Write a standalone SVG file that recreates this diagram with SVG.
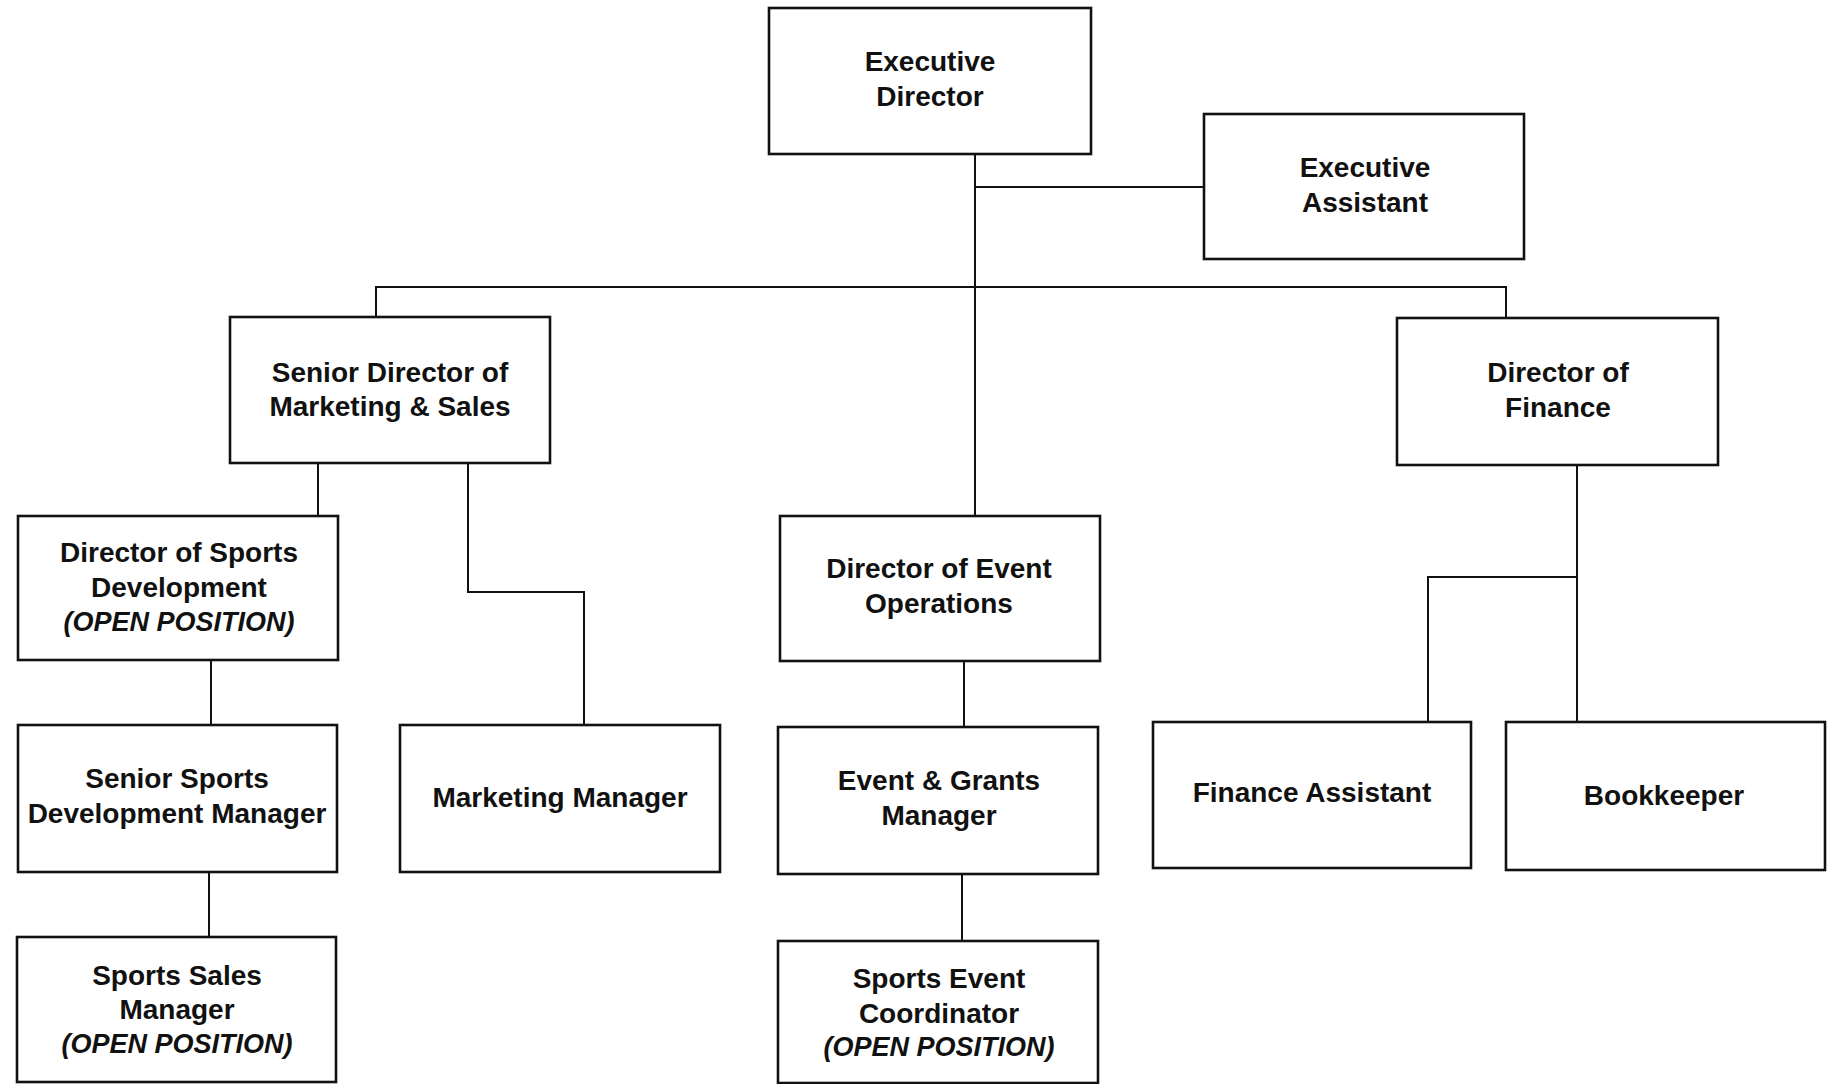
<svg xmlns="http://www.w3.org/2000/svg" width="1836" height="1084" viewBox="0 0 1836 1084">
<style>
.box{fill:#fff;stroke:#111;stroke-width:2.6}
.ln{fill:none;stroke:#111;stroke-width:2}
text{font-family:"Liberation Sans",Arial,sans-serif;font-weight:bold;font-size:28px;fill:#111;text-anchor:middle}
.it{font-style:italic;font-size:27px}
</style>
<rect width="1836" height="1084" fill="#fff"/>
<g id="connectors">
<path class="ln" d="M975 154V516"/>
<path class="ln" d="M975 187H1204"/>
<path class="ln" d="M376 317V287H1506V318"/>
<path class="ln" d="M318 463V516"/>
<path class="ln" d="M468 463V592H584V725"/>
<path class="ln" d="M211 660V725"/>
<path class="ln" d="M209 872V937"/>
<path class="ln" d="M964 661V727"/>
<path class="ln" d="M962 874V941"/>
<path class="ln" d="M1577 465V722"/>
<path class="ln" d="M1577 577H1428V722"/>
</g>
<g id="executive-director"><rect class="box" x="769" y="8" width="322" height="146"/><text x="930" y="71">Executive</text><text x="930" y="106">Director</text></g>
<g id="executive-assistant"><rect class="box" x="1204" y="114" width="320" height="145"/><text x="1365" y="177">Executive</text><text x="1365" y="212">Assistant</text></g>
<g id="senior-director-marketing"><rect class="box" x="230" y="317" width="320" height="146"/><text x="390" y="382">Senior Director of</text><text x="390" y="416">Marketing &amp; Sales</text></g>
<g id="director-finance"><rect class="box" x="1397" y="318" width="321" height="147"/><text x="1558" y="382">Director of</text><text x="1558" y="417">Finance</text></g>
<g id="director-sports-development"><rect class="box" x="18" y="516" width="320" height="144"/><text x="179" y="562">Director of Sports</text><text x="179" y="597">Development</text><text class="it" x="179" y="631">(OPEN POSITION)</text></g>
<g id="director-event-operations"><rect class="box" x="780" y="516" width="320" height="145"/><text x="939" y="578">Director of Event</text><text x="939" y="613">Operations</text></g>
<g id="senior-sports-development-manager"><rect class="box" x="18" y="725" width="319" height="147"/><text x="177" y="788">Senior Sports</text><text x="177" y="823">Development Manager</text></g>
<g id="marketing-manager"><rect class="box" x="400" y="725" width="320" height="147"/><text x="560" y="807">Marketing Manager</text></g>
<g id="event-grants-manager"><rect class="box" x="778" y="727" width="320" height="147"/><text x="939" y="790">Event &amp; Grants</text><text x="939" y="825">Manager</text></g>
<g id="finance-assistant"><rect class="box" x="1153" y="722" width="318" height="146"/><text x="1312" y="802">Finance Assistant</text></g>
<g id="bookkeeper"><rect class="box" x="1506" y="722" width="319" height="148"/><text x="1664" y="805">Bookkeeper</text></g>
<g id="sports-sales-manager"><rect class="box" x="17" y="937" width="319" height="145"/><text x="177" y="985">Sports Sales</text><text x="177" y="1019">Manager</text><text class="it" x="177" y="1053">(OPEN POSITION)</text></g>
<g id="sports-event-coordinator"><rect class="box" x="778" y="941" width="320" height="142"/><text x="939" y="988">Sports Event</text><text x="939" y="1023">Coordinator</text><text class="it" x="939" y="1056">(OPEN POSITION)</text></g>
</svg>
